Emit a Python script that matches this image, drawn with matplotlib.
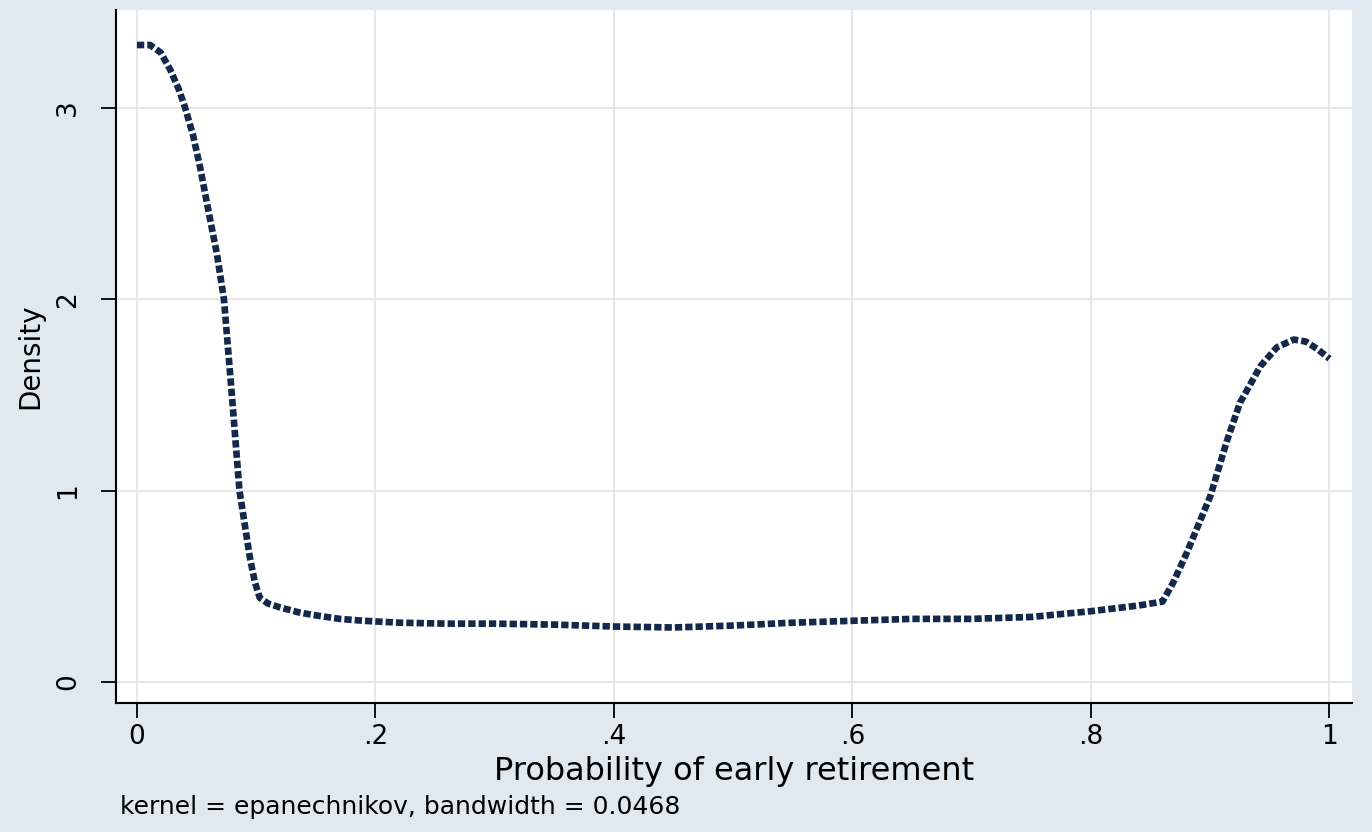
import matplotlib
matplotlib.use("Agg")
import matplotlib.pyplot as plt

# kernel density estimate
prob = [0.0, 0.011, 0.02, 0.028, 0.035, 0.040, 0.047, 0.053, 0.061, 0.067, 0.073,
        0.080, 0.086, 0.091, 0.095, 0.099, 0.103, 0.11, 0.12, 0.135, 0.148, 0.17,
        0.19, 0.22, 0.26, 0.30, 0.35, 0.40, 0.45, 0.50, 0.55, 0.60, 0.65, 0.70,
        0.75, 0.80, 0.84, 0.86, 0.869, 0.88, 0.89, 0.90, 0.914, 0.925, 0.942,
        0.956, 0.97, 0.98, 0.99, 1.0]
density = [3.33, 3.33, 3.29, 3.20, 3.10, 3.01, 2.86, 2.69, 2.43, 2.24, 2.00,
           1.47, 1.00, 0.80, 0.64, 0.52, 0.44, 0.41, 0.39, 0.365, 0.35, 0.33,
           0.32, 0.31, 0.305, 0.305, 0.30, 0.29, 0.285, 0.295, 0.31, 0.32, 0.33, 0.33,
           0.34, 0.37, 0.40, 0.42, 0.52, 0.67, 0.82, 0.97, 1.26, 1.46, 1.65,
           1.75, 1.79, 1.78, 1.74, 1.69]

xticks = [0, 0.2, 0.4, 0.6, 0.8, 1.0]
xticklabels = ["0", ".2", ".4", ".6", ".8", "1"]
yticks = [0, 1, 2, 3]

plt.rcParams['font.family'] = ['DejaVu Sans']

bg = '#E0E9EF'
fig = plt.figure(figsize=(13.72, 8.32), dpi=100, facecolor=bg)
ax = fig.add_axes([0.0845, 0.155, 0.901, 0.833])
ax.set_facecolor('white')

ax.plot(prob, density, color='#13294B', linewidth=4.8,
        linestyle=(0, (1.1, 0.45)), solid_capstyle='butt', zorder=3)

ax.set_xlim(-0.0176, 1.019)
ax.set_ylim(-0.11, 3.513)
ax.set_xticks(xticks)
ax.set_xticklabels(xticklabels)
ax.set_yticks(yticks)
ax.set_yticklabels([str(t) for t in yticks], rotation=90, va='center')
ax.grid(True, color='#E3E3E3', linewidth=1.2)
ax.set_axisbelow(True)

for s in ['top', 'right']:
    ax.spines[s].set_visible(False)
for s in ['left', 'bottom']:
    ax.spines[s].set_color('black')
    ax.spines[s].set_linewidth(1.5)

ax.tick_params(axis='both', direction='out', length=11, width=1.3,
               labelsize=19, colors='black')
ax.tick_params(axis='x', pad=4)
ax.tick_params(axis='y', pad=14)

ax.set_xlabel("Probability of early retirement", fontsize=23)
ax.xaxis.label.set_va('baseline')
ax.xaxis.set_label_coords(0.5, -0.111)
ax.set_ylabel("Density", fontsize=20)
ax.yaxis.label.set_va('center')
ax.yaxis.set_label_coords(-0.0696, 0.5)

fig.text(0.0875, 0.022, "kernel = epanechnikov, bandwidth = 0.0468",
         fontsize=18, va='baseline')

fig.savefig("out.png", dpi=100, facecolor=bg)
